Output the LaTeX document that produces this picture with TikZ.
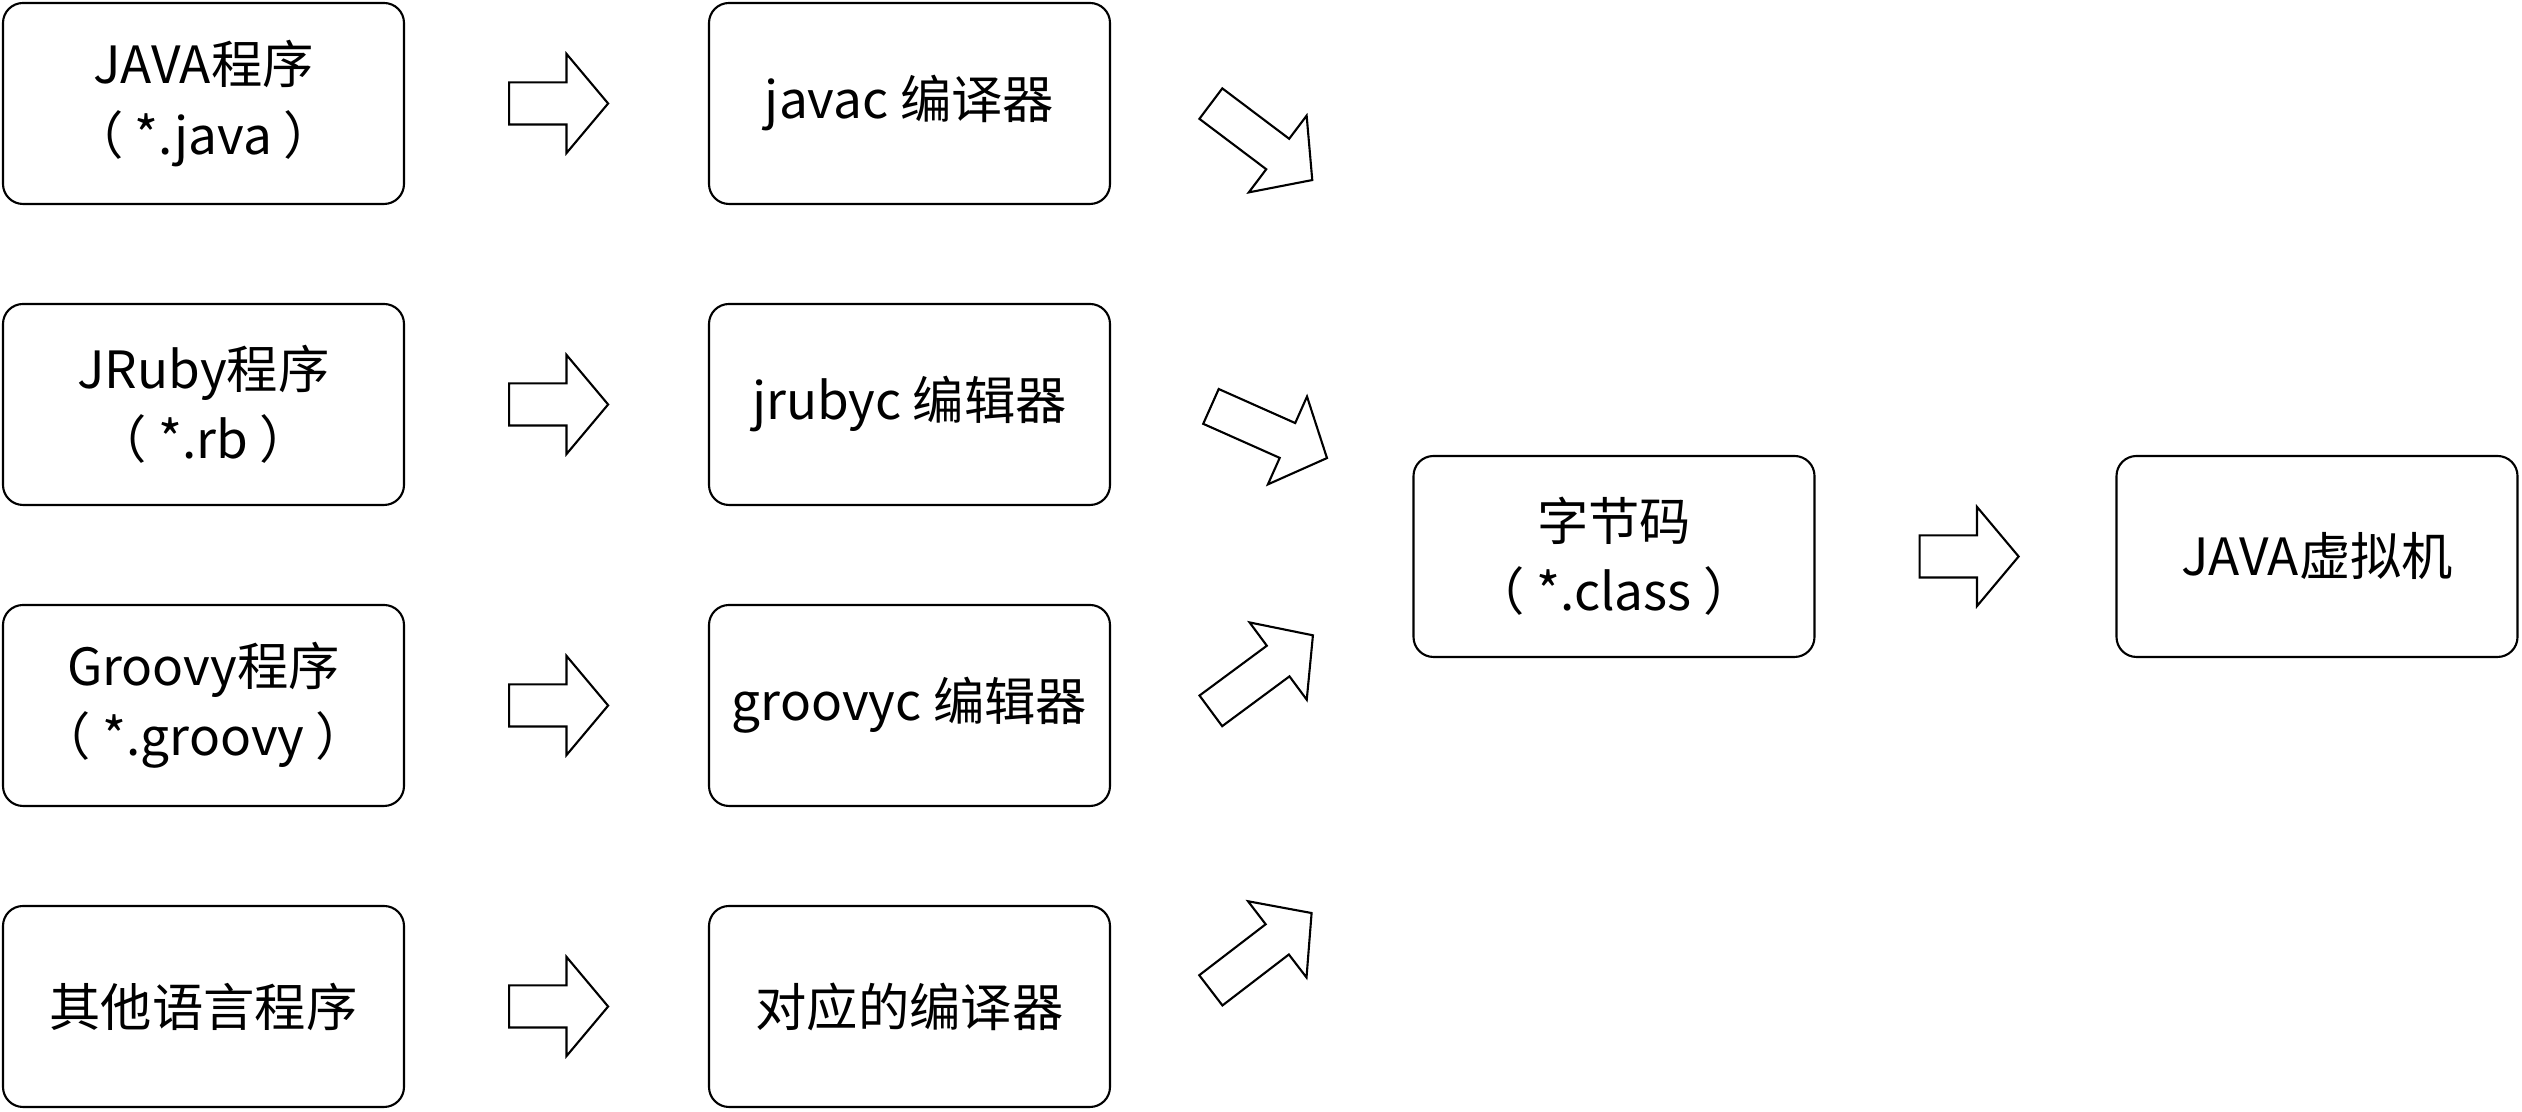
\documentclass[tikz,border=0pt]{standalone}
\usepackage{fontspec}
\setmainfont{Noto Sans CJK SC}
\usepackage{xcolor}
\usepackage{tikz}
\usetikzlibrary{
  positioning,
  shapes.arrows
}

\begin{document}
\begin{tikzpicture}[
  box/.style={draw,semithick,rounded corners=0.2cm,minimum width=4.01cm,minimum height=2.01cm,
    align=center,font=\fontsize{14.6}{20}\selectfont},
  harrow/.style={draw,semithick,single arrow,minimum height=0.99cm,inner sep=0.2cm,
    single arrow head extend=0.285cm,single arrow tip angle=100},
  darrow/.style={draw,semithick,single arrow,anchor=tail,minimum height=1.27cm,inner sep=0.18cm,
    single arrow head extend=0.29cm,single arrow tip angle=96}
]
  \useasboundingbox (0,0) rectangle (25.22,11.12);
  % 左列
  \node[box] (javasrc) at (2.035,10.085) {JAVA程序\\（ *.java ）};
  \node[box] (rubysrc) at (2.035,7.075) {JRuby程序\\（ *.rb ）};
  \node[box] (groovysrc) at (2.035,4.065) {Groovy程序\\（ *.groovy ）};
  \node[box] (othersrc) at (2.035,1.055) {其他语言程序};
  % 中列
  \node[box] (javac) at (9.095,10.085) {javac 编译器};
  \node[box] (jrubyc) at (9.095,7.075) {jrubyc 编辑器};
  \node[box] (groovyc) at (9.095,4.065) {groovyc 编辑器};
  \node[box] (othercomp) at (9.095,1.055) {对应的编译器};
  % 右側
  \node[box] (bytecode) at (16.14,5.555) {字节码\\（ *.class ）};
  \node[box] (jvm) at (23.17,5.555) {JAVA虚拟机};
  % 矢印
  \node[harrow,right=1.03cm of javasrc] (a1) {};
  \node[harrow,right=1.03cm of rubysrc] (a2) {};
  \node[harrow,right=1.03cm of groovysrc] (a3) {};
  \node[harrow,right=1.03cm of othersrc] (a4) {};
  \node[darrow,rotate=-37] (b1) at (12.10,10.09) {};
  \node[darrow,rotate=-24] (b2) at (12.10,7.06) {};
  \node[darrow,rotate=36.5] (b3) at (12.10,4.005) {};
  \node[darrow,rotate=37.5] (b4) at (12.10,1.21) {};
  \node[harrow,right=1.03cm of bytecode] (c1) {};
\end{tikzpicture}
\end{document}
